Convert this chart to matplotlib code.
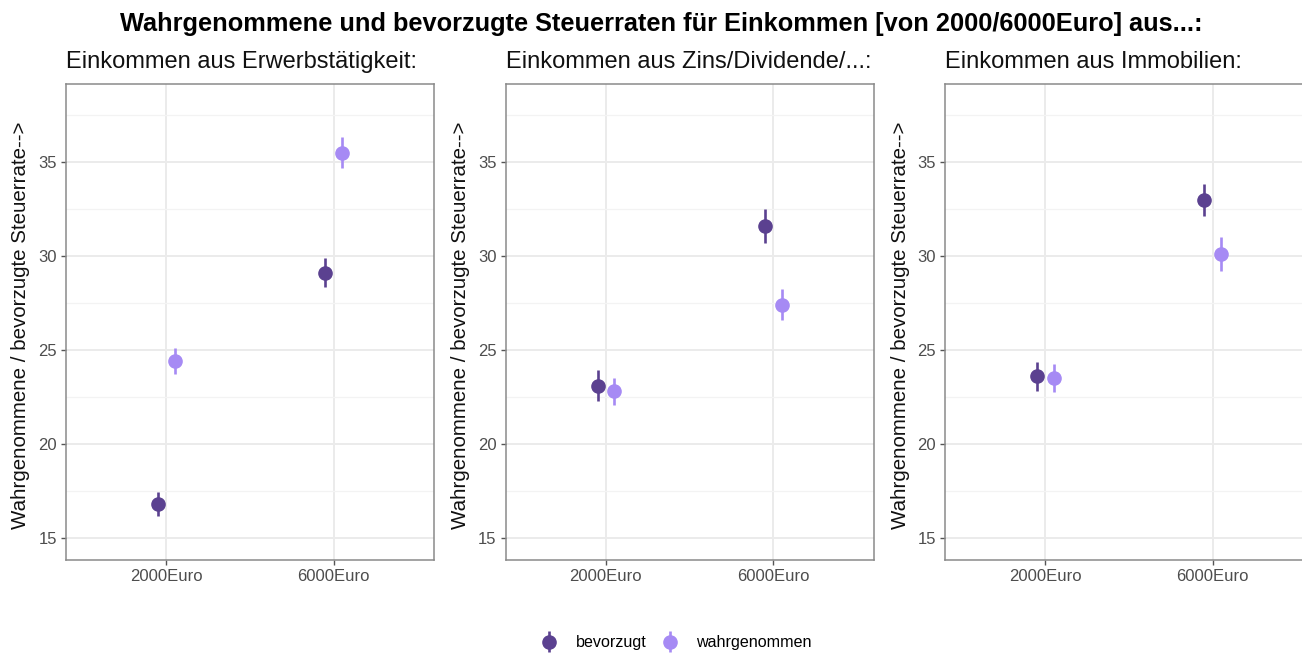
import matplotlib
matplotlib.use("Agg")
import matplotlib.pyplot as plt
from matplotlib.ticker import FixedLocator
from matplotlib.legend_handler import HandlerErrorbar
from matplotlib.container import ErrorbarContainer
import numpy as np

plt.rcParams['font.family'] = ['Liberation Sans', 'DejaVu Sans']

categories = ["2000Euro", "6000Euro"]
panel_titles = ["Einkommen aus Erwerbstätigkeit:",
                "Einkommen aus Zins/Dividende/...:",
                "Einkommen aus Immobilien:"]
series_names = ["bevorzugt", "wahrgenommen"]
bevorzugt = [[16.8, 29.1], [23.1, 31.6], [23.6, 33.0]]
bevorzugt_err = [[0.65, 0.77], [0.82, 0.92], [0.76, 0.85]]
wahrgenommen = [[24.4, 35.5], [22.8, 27.4], [23.5, 30.1]]
wahrgenommen_err = [[0.70, 0.84], [0.72, 0.83], [0.75, 0.89]]
main_title = "Wahrgenommene und bevorzugte Steuerraten für Einkommen [von 2000/6000Euro] aus...:"
y_label = "Wahrgenommene / bevorzugte Steuerrate-->"

col_bev = "#5B4190"
col_wah = "#A68AF4"

W, H = 1302, 653
fig = plt.figure(figsize=(W / 100, H / 100), dpi=100)

lefts = [66, 505.5, 945]
width = 368
top, bottom = 84, 560

handles = None
for i in range(3):
    ax = fig.add_axes([lefts[i] / W, (H - bottom) / H, width / W, (bottom - top) / H])
    x = np.arange(1, len(categories) + 1)
    h1 = ax.errorbar(x - 0.05, bevorzugt[i], yerr=bevorzugt_err[i], fmt='o', color=col_bev,
                     ms=9.5, elinewidth=1.9, capsize=0, zorder=3, label=series_names[0])
    h2 = ax.errorbar(x + 0.05, wahrgenommen[i], yerr=wahrgenommen_err[i], fmt='o', color=col_wah,
                     ms=9.5, elinewidth=1.9, capsize=0, zorder=3, label=series_names[1])
    handles = [h1, h2]
    ax.set_xlim(0.4, 2.6)
    ax.set_ylim(13.83, 39.15)
    ax.set_xticks(x)
    ax.set_xticklabels(categories)
    ax.yaxis.set_major_locator(FixedLocator([15, 20, 25, 30, 35]))
    ax.yaxis.set_minor_locator(FixedLocator([17.5, 22.5, 27.5, 32.5, 37.5]))
    ax.grid(True, which='major', color='#EBEBEB', lw=1.4, zorder=0)
    ax.grid(True, which='minor', axis='y', color='#F3F3F3', lw=0.9, zorder=0)
    ax.set_axisbelow(True)
    ax.tick_params(axis='both', which='major', length=3.5, width=1.0, color='#555555',
                   labelsize=12, labelcolor='#4D4D4D', pad=3)
    ax.tick_params(axis='y', which='minor', length=0)
    for sp in ax.spines.values():
        sp.set_color('#8A8A8A')
        sp.set_linewidth(1.1)
    fig.text(lefts[i] / W, 1 - 62 / H, panel_titles[i], fontsize=17, ha='left', va='center',
             color='#111111')
    fig.text((lefts[i] - 45) / W, (H - 325) / H, y_label, rotation=90,
             fontsize=14.8, ha='center', va='center', color='#111111')

fig.text(661 / W, 1 - 24 / H, main_title, fontsize=18.3, fontweight='bold', ha='center',
         va='center', color='#000000')

fig.legend(handles=handles, labels=series_names, loc='center', ncol=2, frameon=False,
           bbox_to_anchor=(677 / W, 10 / H), fontsize=11.6, handlelength=0.9,
           handletextpad=1.2, columnspacing=1.0,
           handler_map={ErrorbarContainer: HandlerErrorbar(yerr_size=0.65)})

fig.savefig("out.png", dpi=100)
